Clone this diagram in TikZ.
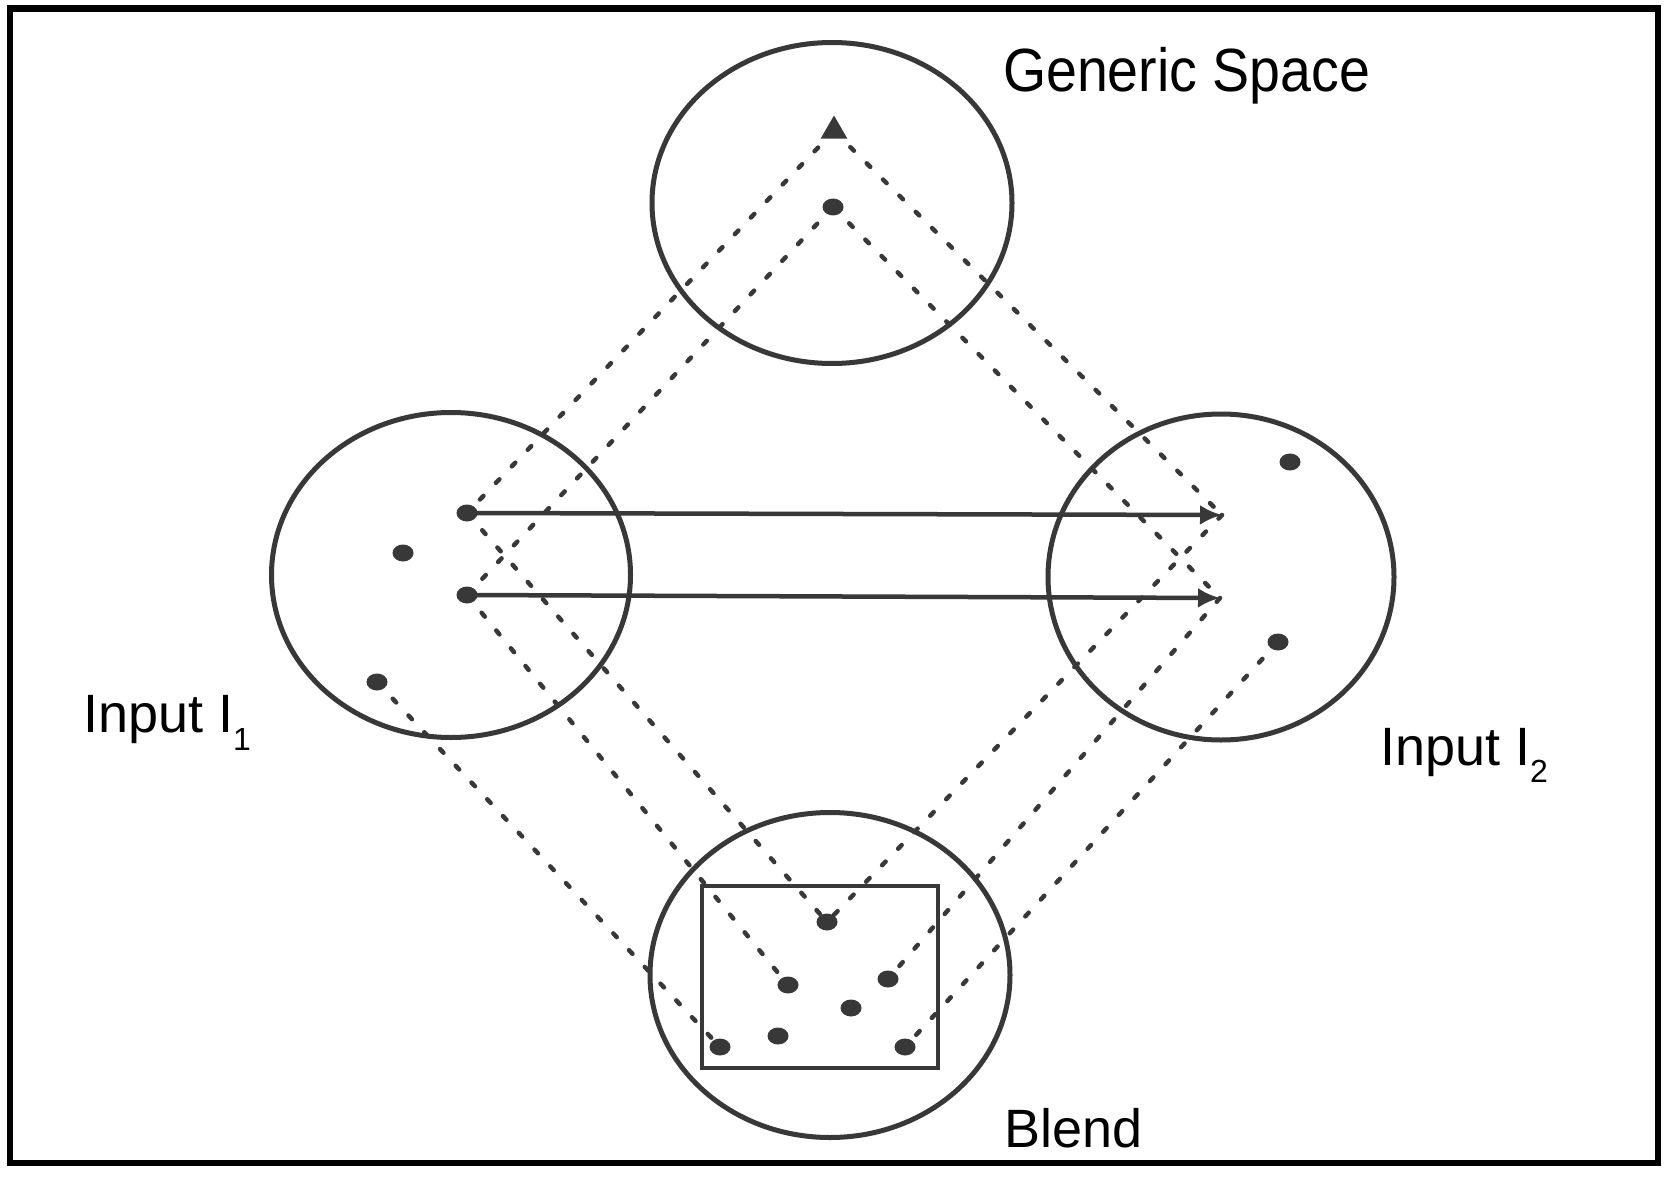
\documentclass[tikz,border=0pt]{standalone}
\usepackage{fontspec}
\setmainfont{Liberation Sans}
\usetikzlibrary{shapes.geometric,arrows.meta}
\definecolor{ink}{HTML}{383838}
\begin{document}
\begin{tikzpicture}[x=1pt,y=-1pt,
  spacecirc/.style={draw=ink, line width=5pt, ellipse, inner sep=0pt, outer sep=0pt},
  dotpt/.style={fill=ink, ellipse, minimum width=21pt, minimum height=17pt, inner sep=0pt, outer sep=0pt},
  maplink/.style={draw=ink, line width=4.5pt, line cap=round, dash pattern=on 5pt off 18pt},
  arrowline/.style={draw=ink, line width=4.5pt, -{Latex[length=22pt,width=20pt]}},
  bigtext/.style={inner sep=0pt, outer sep=0pt, anchor=base west, text=black}]
\useasboundingbox (0,0) rectangle (1673,1177);
\fill[white] (0,0) rectangle (1673,1177);
% frame
\draw[line width=6.5pt, black] (10,8.5) rectangle (1658,1163);

% mental spaces
\node[spacecirc, minimum width=360pt, minimum height=321pt] (generic) at (832,203) {};
\node[spacecirc, minimum width=359pt, minimum height=325pt] (input1) at (451,575) {};
\node[spacecirc, minimum width=346pt, minimum height=326pt] (input2) at (1221,577) {};
\node[spacecirc, minimum width=360pt, minimum height=325pt] (blend) at (830,975) {};
\node[draw=ink, line width=4.5pt, inner sep=0pt, outer sep=0pt, minimum width=236pt, minimum height=182pt] (blendbox) at (820,977) {};

% elements
\node[regular polygon, regular polygon sides=3, fill=ink, minimum size=31pt, inner sep=0pt] (gt) at (834,131) {};
\node[dotpt] (gd) at (833,207) {};
\node[dotpt] (l1) at (467,513) {};
\node[dotpt] (l2) at (467,595) {};
\node[dotpt] (la) at (403,553) {};
\node[dotpt] (lb) at (377,682) {};
\coordinate (r1) at (1222,515);
\coordinate (r2) at (1220,598);
\node[dotpt] (ra) at (1290,462) {};
\node[dotpt] (rb) at (1278,642) {};
\node[dotpt] (b1) at (827,922) {};
\node[dotpt] (b2) at (788,985) {};
\node[dotpt] (b3) at (888,979) {};
\node[dotpt] (b4) at (851,1008) {};
\node[dotpt] (b5) at (778,1036) {};
\node[dotpt] (b6) at (720,1047) {};
\node[dotpt] (b7) at (905,1047) {};

% cross-space mappings
\draw[arrowline] (l1.center) -- (r1);
\draw[arrowline] (l2.center) -- (r2);

% projections (dotted)
\draw[maplink] (gt.center) -- (l1.center);
\draw[maplink] (gd.center) -- (l2.center);
\draw[maplink] (gt.center) -- (r1);
\draw[maplink] (gd.center) -- (r2);
\draw[maplink] (l1.center) -- (b1.center);
\draw[maplink] (l2.center) -- (b2.center);
\draw[maplink] (lb.center) -- (b6.center);
\draw[maplink] (r1) -- (b1.center);
\draw[maplink] (r2) -- (b3.center);
\draw[maplink] (rb.center) -- (b7.center);

% labels
\node[bigtext] (lgeneric) at (1003,92) {\fontsize{61}{70}\selectfont\scalebox{0.91}[1]{Generic Space}};
\node[bigtext] (linput1) at (83,732) {\fontsize{54}{60}\selectfont Input I\raisebox{-18pt}{\fontsize{32}{34}\selectfont 1}};
\node[bigtext] (linput2) at (1380,765) {\fontsize{54}{60}\selectfont Input I\raisebox{-17pt}{\fontsize{32}{34}\selectfont 2}};
\node[bigtext] (lblend) at (1004,1147) {\fontsize{54}{60}\selectfont Blend};
\end{tikzpicture}
\end{document}
